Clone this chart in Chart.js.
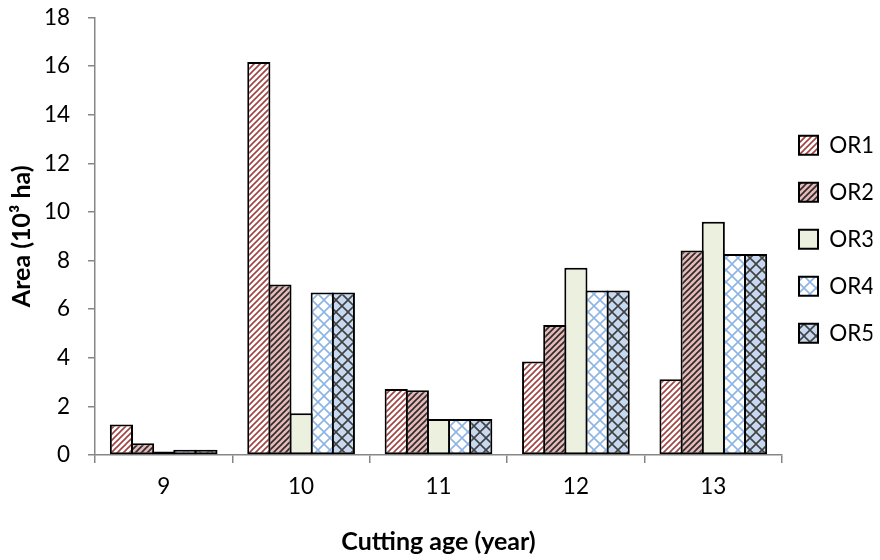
<!DOCTYPE html>
<html>
<head>
<meta charset="utf-8">
<title>Area by cutting age</title>
<script src="https://cdn.jsdelivr.net/npm/chart.js"></script>
<style>
  html, body { margin: 0; padding: 0; background: #fff; }
  #wrap { width: 880px; height: 560px; }
</style>
</head>
<body>
<div id="wrap"><canvas id="area-chart" width="880" height="560"></canvas></div>
<script>
/*-----------------------------
Data
------------------------------*/
const ages = ['9', '10', '11', '12', '13'];
const seriesNames = ['OR1', 'OR2', 'OR3', 'OR4', 'OR5'];
const or1 = [1.26, 16.17, 2.72, 3.85, 3.12];
const or2 = [0.48, 7.02, 2.66, 5.35, 8.41];
const or3 = [0.14, 1.72, 1.48, 7.70, 9.60];
const or4 = [0.22, 6.69, 1.48, 6.77, 8.27];
const or5 = [0.22, 6.69, 1.48, 6.77, 8.27];
const yTicks = { min: 0, max: 18, step: 2 };

//----------------------------------------
// Look
//----------------------------------------
const fontFamily = 'Lato, "Open Sans", sans-serif';
const tickFont = { family: fontFamily, size: 22.5 };
const titleFont = { family: fontFamily, size: 25, weight: 'bold' };
const axisGray = '#868686';
const barBorder = 2;
const legendBoxX = 799;

const canvas = document.getElementById('area-chart');
const ctx = canvas.getContext('2d');

// diagonal stripes going up to the right
function stripes(bg, fg, size, width) {
    const tile = document.createElement('canvas');
    tile.width = tile.height = size;
    const g = tile.getContext('2d');
    g.fillStyle = bg;
    g.fillRect(0, 0, size, size);
    g.strokeStyle = fg;
    g.lineWidth = width;
    g.beginPath();
    g.moveTo(-1, size + 1); g.lineTo(size + 1, -1);
    g.moveTo(-1, 1); g.lineTo(1, -1);
    g.moveTo(size - 1, size + 1); g.lineTo(size + 1, size - 1);
    g.stroke();
    return ctx.createPattern(tile, 'repeat');
}

// diamond lattice (both diagonals)
function lattice(bg, fg, size, width) {
    const tile = document.createElement('canvas');
    tile.width = tile.height = size;
    const g = tile.getContext('2d');
    g.fillStyle = bg;
    g.fillRect(0, 0, size, size);
    g.strokeStyle = fg;
    g.lineWidth = width;
    g.beginPath();
    g.moveTo(-1, -1); g.lineTo(size + 1, size + 1);
    g.moveTo(size + 1, -1); g.lineTo(-1, size + 1);
    g.stroke();
    return ctx.createPattern(tile, 'repeat');
}

const fills = [
    stripes('#ffffff', '#a04240', 6, 1.6),
    stripes('#e6b9b8', '#2a2a2a', 6, 1.6),
    '#ebf1de',
    lattice('#ffffff', '#8db4e2', 12, 1.6),
    lattice('#c6d9f1', '#404040', 12, 1.6)
];

const values = [or1, or2, or3, or4, or5];

// bars overlap by one border width so neighbours share a single edge, like Excel
const catPct = 5 / 6.5;
const slot = (782 - 95) / ages.length * catPct / seriesNames.length;
const barPct = (slot + barBorder) / slot;

const datasets = seriesNames.map((name, i) => ({
    label: name,
    data: values[i],
    backgroundColor: fills[i],
    borderColor: '#000000',
    borderWidth: barBorder,
    borderSkipped: false,
    categoryPercentage: catPct,
    barPercentage: barPct
}));

//----------------------------------------
// Legend sits a little closer to the plot than its item spacing allows
//----------------------------------------
const legendNudge = {
    id: 'legendNudge',
    afterLayout(chart) {
        const lg = chart.legend;
        const dx = legendBoxX - lg.options.labels.padding - lg.left;
        lg.left += dx;
        lg.right += dx;
        lg.top += 3;
        lg.bottom += 3;
    }
};

new Chart(canvas, {
    type: 'bar',
    data: {
        labels: ages,
        datasets: datasets
    },
    plugins: [legendNudge],
    options: {
        responsive: false,
        devicePixelRatio: 1,
        animation: false,
        layout: {
            padding: { top: 17.5, right: 0, bottom: 0, left: 0 }
        },
        plugins: {
            tooltip: { enabled: false },
            legend: {
                position: 'right',
                fullSize: false,
                maxWidth: 98,
                labels: {
                    boxWidth: 19,
                    boxHeight: 19,
                    padding: 24.5,
                    color: '#000000',
                    font: tickFont
                }
            }
        },
        scales: {
            x: {
                grid: {
                    offset: true,
                    drawOnChartArea: false,
                    tickLength: 8,
                    color: axisGray,
                    lineWidth: 1.5
                },
                border: { color: axisGray, width: 1.5 },
                ticks: {
                    color: '#000000',
                    padding: 10,
                    font: tickFont
                },
                title: {
                    display: true,
                    text: 'Cutting age (year)',
                    color: '#000000',
                    font: titleFont,
                    padding: { top: 0, bottom: 3 }
                },
                afterFit(scale) { scale.height = 105; }
            },
            y: {
                min: yTicks.min,
                max: yTicks.max,
                grid: {
                    drawOnChartArea: false,
                    tickLength: 7,
                    color: axisGray,
                    lineWidth: 1.5
                },
                border: { color: axisGray, width: 1.5 },
                ticks: {
                    stepSize: yTicks.step,
                    color: '#000000',
                    padding: 18,
                    font: tickFont
                },
                title: {
                    display: true,
                    text: 'Area (10³ ha)',
                    color: '#000000',
                    font: titleFont,
                    padding: { top: 7, bottom: 0 }
                },
                afterFit(scale) {
                    scale.width = 95;
                    // label overflow is covered by the layout padding
                    scale.paddingTop = 0;
                    scale.paddingBottom = 0;
                }
            }
        }
    }
});
</script>
</body>
</html>
